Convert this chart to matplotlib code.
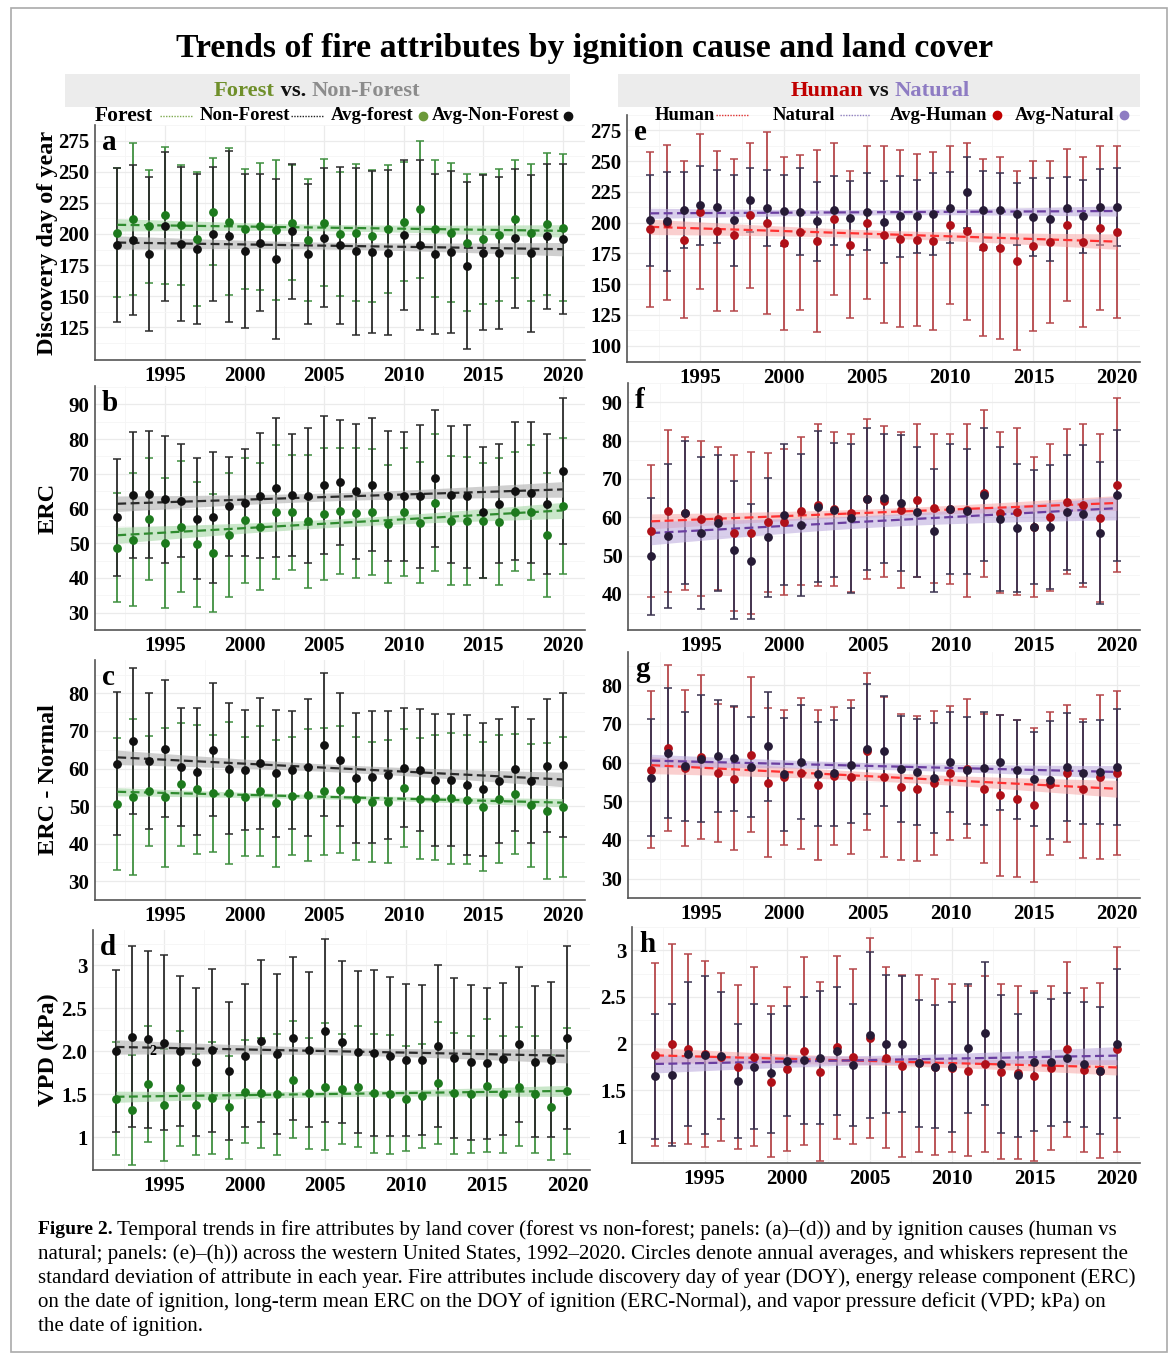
import matplotlib
matplotlib.use("Agg")
import matplotlib.pyplot as plt
from matplotlib.lines import Line2D
from matplotlib.patches import Rectangle
import numpy as np

plt.rcParams['font.family'] = ['Liberation Serif', 'DejaVu Serif']

W, H = 1173, 1358
years = np.arange(1992, 2021)

# ---- panel a: discovery day of year (forest / non-forest)
a_forest_mean = [201, 212, 206, 215, 207, 196, 218, 210, 204, 206, 203, 209, 195, 209, 200,
                 201, 198, 204, 210, 220, 204, 201, 193, 196, 199, 212, 201, 208, 205]
a_forest_sd = [52, 61, 45, 55, 48, 54, 43, 59, 48, 51, 56, 46, 49, 51, 50,
               55, 53, 51, 48, 55, 55, 56, 55, 52, 53, 47, 55, 57, 59]
a_nonforest_mean = [191, 195, 184, 206, 192, 188, 200, 198, 186.5, 193, 180, 202, 184, 197, 191,
                    186, 185.5, 185, 199, 191, 184, 185.5, 174.6, 185, 185, 196.5, 184.5, 198, 196]
a_nonforest_sd = [62, 60, 62, 60, 62, 60, 54, 69, 62, 55, 64, 54, 56, 56, 63,
                  67, 65, 66, 60, 68, 64, 65, 67, 62, 61, 56, 63, 58, 60]

# ---- panel e: discovery day of year (human / natural)
e_human_mean = [194.5, 200, 186, 209, 193, 190, 206, 200, 183, 192, 185, 203, 182, 200, 190,
                187, 185.5, 185, 198, 193, 180, 179.5, 169, 181, 184, 198, 184, 195.5, 192]
e_human_sd = [63, 63, 64, 63, 65, 62, 59, 74, 70, 63, 74, 62, 60, 62, 72,
              72, 70, 72, 64, 72, 72, 74, 73, 69, 66, 62, 69, 67, 70]
e_natural_mean = [202, 201, 210.5, 214, 213, 202, 218, 212, 209.7, 209, 201, 210, 204, 209, 200.5,
                  205, 205, 207, 212, 224.7, 210, 210, 207, 204.5, 202.6, 211.6, 205, 212.6, 212.6]
e_natural_sd = [37, 40, 31, 32, 30, 37, 26, 31, 29, 35, 32, 28, 30, 31, 33,
                33, 30, 33, 29, 29, 32, 30, 25.5, 32, 34, 25.5, 29.5, 31, 32]

# ---- panel b: ERC (forest / non-forest)
b_forest_mean = [48.7, 51, 57, 50, 54.8, 49.7, 47.2, 52.4, 56.6, 54.8, 58.9, 58.9, 56.3, 58.4, 59.3,
                 58.6, 59, 55.5, 59, 55.9, 61.7, 56.5, 56.4, 56.5, 56.2, 59.1, 58.9, 52.4, 60.7]
b_forest_sd = [15.7, 19.2, 17.5, 18.7, 18.8, 18, 16.9, 17.8, 18, 18.2, 19.3, 16.5, 19.2, 19.1, 18.1,
               18.7, 18.1, 17, 18.3, 17.5, 19.7, 18.6, 18.5, 16.5, 18.3, 17.2, 19.5, 17.8, 19.7]
b_nonforest_mean = [57.5, 63.9, 64.1, 62.6, 62.3, 57.1, 57.5, 60.6, 61.7, 63.7, 66, 63.9, 63.7, 66.8, 67.6,
                    65, 66.9, 63.6, 63.5, 63.5, 68.7, 64, 63.5, 58.9, 61.4, 65.1, 64.5, 61.4, 70.8]
b_nonforest_sd = [16.9, 18.1, 18.3, 18.2, 16.4, 17.5, 18.9, 14.2, 15.5, 18, 20, 17.5, 19.4, 20, 18,
                  19.4, 19.1, 18.6, 18.6, 20.5, 19.7, 19.8, 20.6, 18.9, 17.2, 19.9, 20.3, 20.2, 20.9]

# ---- panel f: ERC (human / natural)
f_human_mean = [56.4, 61.6, 61, 59.6, 59.6, 55.8, 55.9, 58.7, 58.7, 61.6, 63.1, 62.1, 61.1, 64.7, 64.2,
                61.9, 64.4, 62.3, 62.2, 61.8, 66.2, 61.2, 61.4, 57.5, 60, 64.1, 63.1, 59.8, 68.4]
f_human_sd = [17.2, 21.2, 20, 20.2, 18.6, 20.3, 21, 18.1, 19, 19.3, 21.1, 20.1, 20.6, 20.8, 19.7,
              20.3, 20, 19.4, 19.5, 22.6, 21.7, 21, 21.8, 18.2, 19.2, 19, 21.2, 21.8, 22.8]
f_natural_mean = [49.8, 55.1, 61.2, 55.9, 58.4, 51.4, 48.5, 54.8, 60.7, 58, 62.8, 61.8, 59.7, 64.8, 64.9,
                  63.7, 61.3, 56.5, 62.2, 61.6, 65.9, 59.6, 57.2, 57.4, 57.5, 61.3, 60.8, 56, 65.7]
f_natural_sd = [15.2, 18.8, 18.7, 19.9, 17.7, 18, 15, 15.5, 18.3, 18.5, 19.7, 17.5, 19.4, 18.5, 16.8,
                17.7, 17, 16, 16.9, 16.3, 17.4, 18.8, 16.7, 14.9, 16.2, 15, 18, 18.5, 17]

# ---- panel c: ERC - Normal (forest / non-forest)
c_forest_mean = [50.6, 52.5, 54.1, 52.4, 55.8, 54.5, 53.4, 53.5, 52.5, 54, 50.7, 52.7, 53, 53.9, 54.4,
                 52, 51.1, 51.2, 54.9, 52, 52.2, 52.1, 51.7, 49.8, 51.9, 53.2, 50.2, 48.6, 49.8]
c_forest_sd = [17.5, 20.8, 14.6, 18.5, 16.3, 17.2, 15.6, 18.9, 15.8, 17.2, 17, 15.7, 17.6, 17, 16.9,
               16.3, 16.1, 16.4, 15.7, 16.1, 16.6, 17.4, 17.1, 17.2, 17, 16, 16.4, 18.1, 18.6]
c_nonforest_mean = [61.3, 67.4, 62, 65.3, 60.4, 59.1, 65, 60, 59.6, 61.4, 58.7, 59.7, 60.3, 66.4, 62.3,
                    57.5, 57.7, 58.2, 60.2, 59.6, 56.9, 56.9, 55.6, 54.5, 56.8, 59.8, 56.7, 60.8, 60.9]
c_nonforest_sd = [19, 19.4, 18.2, 18.2, 15.8, 16.9, 17.7, 17.5, 16, 17.5, 16.8, 15.7, 18.2, 19, 17.7,
                  17.3, 17.6, 17, 15.8, 16.3, 17.6, 17.6, 18.7, 17.7, 16.5, 16.5, 16.6, 17.7, 19.1]

# ---- panel g: ERC - Normal (human / natural)
g_human_mean = [58.2, 63.7, 58.6, 61.5, 57.4, 55.8, 62.1, 54.8, 56.2, 57.2, 54.1, 56.6, 56.3, 62.9, 56.3,
                53.7, 53.3, 54.7, 57.4, 58.4, 53.3, 51.6, 50.7, 49, 54.6, 57.2, 53.3, 56.2, 57.3]
g_human_sd = [20.4, 21.5, 20.1, 21.2, 17.8, 18.5, 20, 19.2, 17.4, 19.5, 19.4, 17.8, 19.9, 20.3, 20.6,
              18.8, 18.8, 18.6, 17.3, 18, 19.2, 20.8, 20.2, 19.9, 18.5, 17.7, 17.9, 21.2, 21.3]
g_natural_mean = [56.1, 62.4, 59, 61, 61.8, 61.1, 58.9, 64.2, 57, 60.1, 57, 57.2, 59.3, 63.5, 63,
                  58.4, 57.6, 56.1, 60.1, 58, 58.5, 60.1, 58.2, 55.7, 55.5, 58.9, 57.4, 57.6, 58.9]
g_natural_sd = [15.1, 16.8, 14.1, 16.4, 14.5, 13.5, 13, 14.1, 14.6, 14.7, 13.5, 13.7, 14.8, 16.8, 14.2,
                13.7, 13.6, 14.2, 12.9, 13.9, 14.6, 12.3, 12.8, 12.2, 15.2, 14, 13.2, 13.5, 15]

# ---- panel d: VPD (forest / non-forest)
d_forest_mean = [1.45, 1.32, 1.62, 1.38, 1.57, 1.38, 1.46, 1.35, 1.53, 1.52, 1.50, 1.67, 1.51, 1.59, 1.56,
                 1.59, 1.51, 1.50, 1.45, 1.48, 1.63, 1.51, 1.50, 1.60, 1.50, 1.59, 1.50, 1.35, 1.54]
d_forest_sd = [0.66, 0.64, 0.67, 0.65, 0.67, 0.59, 0.65, 0.60, 0.60, 0.64, 0.70, 0.68, 0.65, 0.74, 0.64,
               0.70, 0.69, 0.69, 0.61, 0.60, 0.71, 0.70, 0.68, 0.77, 0.68, 0.69, 0.68, 0.61, 0.73]
d_nonforest_mean = [2.0, 2.17, 2.14, 2.10, 2.0, 1.88, 2.01, 1.77, 1.95, 2.12, 1.97, 2.15, 2.02, 2.24, 2.11,
                    1.99, 1.98, 1.94, 1.90, 1.90, 2.06, 1.92, 1.87, 1.86, 1.91, 2.08, 1.88, 1.90, 2.16]
d_nonforest_sd = [0.94, 1.05, 1.03, 1.02, 0.87, 0.86, 0.95, 0.80, 0.83, 0.94, 0.93, 0.95, 0.90, 1.06, 0.94,
                  0.94, 0.97, 0.92, 0.88, 0.87, 0.94, 0.93, 0.90, 0.88, 0.88, 0.90, 0.88, 0.90, 1.06]

# ---- panel h: VPD (human / natural)
h_human_mean = [1.88, 2.0, 1.94, 1.89, 1.86, 1.75, 1.86, 1.59, 1.73, 1.92, 1.70, 1.96, 1.86, 2.06, 1.85,
                1.76, 1.79, 1.75, 1.74, 1.71, 1.78, 1.70, 1.69, 1.65, 1.74, 1.94, 1.72, 1.71, 1.94]
h_human_sd = [0.98, 1.07, 1.02, 1.00, 0.90, 0.88, 0.96, 0.81, 0.88, 1.01, 0.96, 0.98, 0.94, 1.07, 0.97,
              0.98, 0.95, 0.94, 0.90, 0.91, 0.94, 0.94, 0.93, 0.91, 0.88, 0.94, 0.88, 0.94, 1.10]
h_natural_mean = [1.65, 1.66, 1.89, 1.88, 1.87, 1.60, 1.75, 1.68, 1.81, 1.82, 1.85, 1.92, 1.77, 2.09, 2.00,
                  2.00, 1.79, 1.75, 1.75, 1.95, 2.11, 1.78, 1.66, 1.80, 1.80, 1.85, 1.78, 1.71, 2.00]
h_natural_sd = [0.67, 0.76, 0.77, 0.85, 0.68, 0.61, 0.67, 0.64, 0.59, 0.68, 0.71, 0.69, 0.65, 0.89, 0.74,
                0.73, 0.68, 0.66, 0.70, 0.69, 0.77, 0.74, 0.66, 0.74, 0.68, 0.69, 0.67, 0.68, 0.80]

left_yticks = {
    'a': [125, 150, 175, 200, 225, 250, 275],
    'b': [30, 40, 50, 60, 70, 80, 90],
    'c': [30, 40, 50, 60, 70, 80],
    'd': [1, 1.5, 2.0, 2.5, 3],
}
d_ticklabels = ['1', '1.5', '2.0', '2.5', '3']
right_yticks = {
    'e': [100, 125, 150, 175, 200, 225, 250, 275],
    'f': [40, 50, 60, 70, 80, 90],
    'g': [30, 40, 50, 60, 70, 80],
    'h': [1, 1.5, 2, 2.5, 3],
}
h_ticklabels = ['1', '1.5', '2', '2.5', '3']
ylims = {
    'a': (98.8, 279.6), 'b': (26.9, 95.3), 'c': (28.0, 88.9), 'd': (0.62, 3.41),
    'e': (86.6, 281.3), 'f': (30.6, 94.9), 'g': (28.0, 88.6), 'h': (0.72, 3.20),
}
ylabels = ['Discovery day of year', 'ERC', 'ERC - Normal', 'VPD (kPa)']

# styles: (bar colour, point colour, line colour, ribbon colour, ribbon alpha)
st_forest = ('#3f8f3f', '#1d7a1d', '#2e8b2e', '#9fd49f', 0.55)
st_nonforest = ('#2b2b2b', '#111111', '#2a2a2a', '#a8a8a8', 0.55)
st_human = ('#b5474a', '#b01018', '#ff3030', '#f7a0a0', 0.5)
st_natural = ('#3b3350', '#261b36', '#6a3ea0', '#b9a6dc', 0.55)


def px_rect(x0, y0, x1, y1):
    return [x0 / W, 1 - y1 / H, (x1 - x0) / W, (y1 - y0) / H]


def lm_band(x, y, t=2.052):
    x = np.asarray(x, float)
    y = np.asarray(y, float)
    b, a = np.polyfit(x, y, 1)
    fit = a + b * x
    n = len(x)
    s = np.sqrt(np.sum((y - fit) ** 2) / (n - 2))
    se = s * np.sqrt(1 / n + (x - x.mean()) ** 2 / np.sum((x - x.mean()) ** 2))
    return fit, fit - t * se, fit + t * se


def draw_panel(ax, first, second, letter, ticks, ylim, ticklabels=None):
    (m1, s1, sty1), (m2, s2, sty2) = first, second
    for m, s, sty in [(m1, s1, sty1), (m2, s2, sty2)]:
        ax.errorbar(years, m, yerr=s, fmt='none', ecolor=sty[0], elinewidth=1.3,
                    capsize=3, capthick=1.1, zorder=2)
    for m, sty in [(m1, sty1), (m2, sty2)]:
        fit, lo, hi = lm_band(years, m)
        ax.fill_between(years, lo, hi, color=sty[3], alpha=sty[4], lw=0, zorder=3)
        ax.plot(years, fit, ls=(0, (4, 2)), color=sty[2], lw=1.6, zorder=4)
    for m, sty in [(m1, sty1), (m2, sty2)]:
        ax.plot(years, m, 'o', color=sty[1], ms=5.3, zorder=5)
    ax.set_xlim(1990.6, 2021.4)
    ax.set_ylim(*ylim)
    ax.set_xticks([1995, 2000, 2005, 2010, 2015, 2020])
    ax.set_xticks(np.arange(1992.5, 2021, 5), minor=True)
    ax.set_yticks(ticks)
    if ticklabels is not None:
        ax.set_yticklabels(ticklabels)
    step = ticks[1] - ticks[0]
    ax.set_yticks(np.arange(ticks[0] - step / 2, ticks[-1] + step, step), minor=True)
    ax.grid(True, which='major', color='#ebebeb', lw=0.9, zorder=0)
    ax.grid(True, which='minor', color='#f5f5f5', lw=0.6, zorder=0)
    ax.set_axisbelow(True)
    for sp in ['top', 'right']:
        ax.spines[sp].set_visible(False)
    for sp in ['left', 'bottom']:
        ax.spines[sp].set_color('#555555')
        ax.spines[sp].set_linewidth(1.2)
    ax.tick_params(which='both', length=0, labelsize=15, pad=4)
    for lab in ax.get_xticklabels() + ax.get_yticklabels():
        lab.set_fontweight('bold')
    ax.text(0.014, 0.985, letter, transform=ax.transAxes, fontsize=21, fontweight='bold',
            va='top', ha='left', zorder=6)


fig = plt.figure(figsize=(W / 100, H / 100), dpi=100)

# outer frame
fig.patches.append(Rectangle((11 / W, 1 - 1352 / H), (1167 - 11) / W, (1352 - 8) / H,
                             transform=fig.transFigure, fill=False, edgecolor='#aaaaaa', lw=1.2))

fig.text(585 / W, 1 - 49 / H, 'Trends of fire attributes by ignition cause and land cover',
         ha='center', va='center', fontsize=24.3, fontweight='bold')

# strip headers
for x0, x1 in [(65, 570), (618, 1140)]:
    fig.patches.append(Rectangle((x0 / W, 1 - 107 / H), (x1 - x0) / W, 33 / H,
                                 transform=fig.transFigure, color='#ececec', lw=0))


def colored_line(parts, xc, yc, size):
    r = fig.canvas.get_renderer()
    texts = [fig.text(0, 0, s, color=c, fontsize=size, fontweight='bold') for s, c in parts]
    widths = [t.get_window_extent(r).width for t in texts]
    x = xc - sum(widths) / 2
    for t, w in zip(texts, widths):
        t.set_position((x / W, 1 - yc / H))
        t.set_va('center')
        x += w


colored_line([('Forest', '#6f8f2a'), (' vs. ', '#111111'), ('Non-Forest', '#8c8c8c')], 317, 91, 16.2)
colored_line([('Human', '#c00000'), (' vs ', '#111111'), ('Natural', '#8e7cc3')], 880, 91, 16.2)


# legend rows
def leg_text(x, y, s, size=13.5):
    fig.text(x / W, 1 - y / H, s, fontsize=size, fontweight='bold', va='center', ha='left')


def leg_line(x0, x1, y, c):
    fig.lines.append(Line2D([x0 / W, x1 / W], [1 - y / H, 1 - y / H], transform=fig.transFigure,
                            color=c, lw=1.0, ls=(0, (1, 1))))


def leg_dot(x, y, c):
    fig.lines.append(Line2D([x / W], [1 - y / H], transform=fig.transFigure, marker='o',
                            color=c, ms=6, ls='none'))


leg_text(95, 116, 'Forest', 15.5)
leg_line(160, 193, 116, '#7faa50')
leg_text(200, 116, 'Non-Forest')
leg_line(291, 324, 116, '#222222')
leg_text(331, 116, 'Avg-forest')
leg_dot(423, 116, '#6c9a3a')
leg_text(432, 116, 'Avg-Non-Forest')
leg_dot(568, 116, '#111111')

leg_text(655, 115, 'Human')
leg_line(716, 748, 115, '#e03030')
leg_text(773, 115, 'Natural')
leg_line(840, 870, 115, '#9080c0')
leg_text(890, 115, 'Avg-Human')
leg_dot(997, 115, '#c00000')
leg_text(1015, 115, 'Avg-Natural')
leg_dot(1124, 115, '#8e7cc3')

left_rects = [(95, 125, 585, 360), (95, 386, 585, 630), (95, 660, 585, 900), (93, 930, 590, 1170)]
right_rects = [(627, 115, 1140, 362), (628, 383, 1140, 630), (628, 652, 1140, 898), (632, 927, 1140, 1163)]

left_data = [
    ((a_forest_mean, a_forest_sd, st_forest), (a_nonforest_mean, a_nonforest_sd, st_nonforest)),
    ((b_forest_mean, b_forest_sd, st_forest), (b_nonforest_mean, b_nonforest_sd, st_nonforest)),
    ((c_forest_mean, c_forest_sd, st_forest), (c_nonforest_mean, c_nonforest_sd, st_nonforest)),
    ((d_forest_mean, d_forest_sd, st_forest), (d_nonforest_mean, d_nonforest_sd, st_nonforest)),
]
right_data = [
    ((e_human_mean, e_human_sd, st_human), (e_natural_mean, e_natural_sd, st_natural)),
    ((f_human_mean, f_human_sd, st_human), (f_natural_mean, f_natural_sd, st_natural)),
    ((g_human_mean, g_human_sd, st_human), (g_natural_mean, g_natural_sd, st_natural)),
    ((h_human_mean, h_human_sd, st_human), (h_natural_mean, h_natural_sd, st_natural)),
]

for i, key in enumerate('abcd'):
    ax = fig.add_axes(px_rect(*left_rects[i]))
    draw_panel(ax, *left_data[i], key, left_yticks[key], ylims[key],
               d_ticklabels if key == 'd' else None)
    if key == 'd':
        ax.text(1994.3, 2.0, '2', fontsize=10, fontweight='bold', ha='center', va='center', zorder=6)
    yc = (left_rects[i][1] + left_rects[i][3]) / 2
    fig.text(48 / W, 1 - yc / H, ylabels[i], rotation=90, ha='center', va='center',
             fontsize=17.5, fontweight='bold')

for i, key in enumerate('efgh'):
    ax = fig.add_axes(px_rect(*right_rects[i]))
    draw_panel(ax, *right_data[i], key, right_yticks[key], ylims[key],
               h_ticklabels if key == 'h' else None)

# caption
cap_lines = [
    'Temporal trends in fire attributes by land cover (forest vs non-forest; panels: (a)\u2013(d)) and by ignition causes (human vs',
    'natural; panels: (e)\u2013(h)) across the western United States, 1992\u20132020. Circles denote annual averages, and whiskers represent the',
    'standard deviation of attribute in each year. Fire attributes include discovery day of year (DOY), energy release component (ERC)',
    'on the date of ignition, long-term mean ERC on the DOY of ignition (ERC-Normal), and vapor pressure deficit (VPD; kPa) on',
    'the date of ignition.',
]
r = fig.canvas.get_renderer()
cap_size = 15.1
t0 = fig.text(38 / W, 1 - 1230 / H, 'Figure 2.', fontsize=14, fontweight='bold', va='center')
w0 = t0.get_window_extent(r).width
fig.text((38 + w0 + 4) / W, 1 - 1230 / H, cap_lines[0], fontsize=cap_size, va='center')
for k, line in enumerate(cap_lines[1:]):
    fig.text(38 / W, 1 - (1254 + 24 * k) / H, line, fontsize=cap_size, va='center')

fig.savefig('out.png', dpi=100)
